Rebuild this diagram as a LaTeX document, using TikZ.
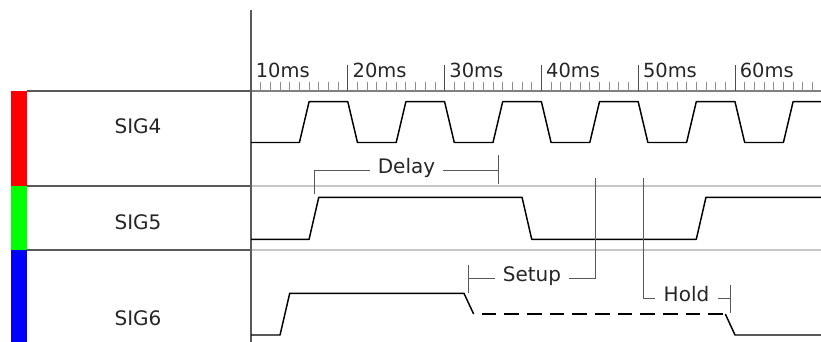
\documentclass[tikz,border=0pt]{standalone}
\usepackage{fontspec}
\setmainfont{DejaVu Sans}
\usepackage{xcolor}
\usepackage{tikz}

\begin{document}
\begin{tikzpicture}[x=0.75pt, y=-0.75pt,
    signame/.style={font=\fontsize{15}{18}\selectfont, text=black!85},
    tlabel/.style={font=\fontsize{14.6}{17}\selectfont, text=black!85, anchor=base west, inner sep=0pt},
    ann/.style={draw=black!65, line width=0.6pt},
    annlabel/.style={font=\fontsize{15}{18}\selectfont, text=black!85, inner xsep=6pt, inner ysep=0pt, anchor=mid},
    wave/.style={line width=1.1pt, line join=round},
    lane/.style={draw=black!22, line width=1.1pt},
    panel/.style={draw=black!65, line width=0.8pt}
]
\useasboundingbox (0,0) rectangle (821,342);

% signal names and colour bars
\fill[red] (11,91) rectangle (27,186);
\fill[green] (11,186) rectangle (27,250);
\fill[blue] (11,250) rectangle (27,342);
\node[signame] (sig4) at (138,126) {SIG4};
\node[signame] (sig5) at (138,222) {SIG5};
\node[signame] (sig6) at (138,318) {SIG6};
\draw[panel] (27,91) -- (251,91);
\draw[panel] (27,186) -- (251,186);
\draw[panel] (27,250) -- (251,250);

% lanes and axes
\draw[lane] (251,186) -- (821,186);
\draw[lane] (251,250) -- (821,250);
\draw[draw=black!50, line width=0.8pt] (251,91) -- (821,91);
\draw[panel] (251,10) -- (251,342);

% time scale, x in ms
\begin{scope}[xshift=115.65pt, x=7.26pt]
\foreach \t in {11,...,68}
    \draw[draw=black!45, line width=0.6pt] (\t,82) -- (\t,91);
\foreach \t in {20,30,...,60}
    \draw[draw=black!70, line width=0.7pt] (\t,65) -- (\t,91);
\foreach \t in {1,...,6}
    \node[tlabel] (tick\t) at (\t*10+0.47,78) {\t0ms};

% waveforms
\draw[wave] (10,142.5) \foreach \t in {15,25,...,55} {
    -- (\t,142.5) -- (\t+1,101.7) -- (\t+5,101.7) -- (\t+6,142.5)}
    -- (65,142.5) -- (66,101.7) -- (68.9,101.7);
\draw[wave] (10,239.3) -- (16,239.3) -- (17,197.3) -- (38,197.3) -- (39,239.3)
    -- (56,239.3) -- (57,197.3) -- (68.9,197.3);
\draw[wave] (10,335) -- (13,335) -- (14,293.3) -- (32,293.3) -- (33,314);
\draw[wave, dash pattern=on 11pt off 6pt, dash phase=11pt] (33,314) -- (59,314);
\draw[wave] (59,314) -- (60,335) -- (68.9,335);
\end{scope}

% Delay
\node[annlabel] (delay) at (406.5,170) {Delay};
\coordinate (dly-a) at (314,194);
\coordinate (dly-b) at (498.3,170);
\draw[ann] (dly-a) |- (delay.mid west);
\draw[ann] (delay.mid east) -- (dly-b);
\draw[ann] ([yshift=11.2pt]dly-b) -- ([yshift=-10.5pt]dly-b);

% Setup
\node[annlabel] (setup) at (532,278.3) {Setup};
\coordinate (set-a) at (468.3,278.3);
\coordinate (set-b) at (595.7,178);
\draw[ann] (set-a) -- (setup.mid west);
\draw[ann] (setup.mid east) -| (set-b);
\draw[ann] ([yshift=10pt]set-a) -- ([yshift=-11pt]set-a);

% Hold
\node[annlabel] (hold) at (686.5,298.3) {Hold};
\coordinate (hld-a) at (643.3,178);
\coordinate (hld-b) at (730,298.3);
\draw[ann] (hld-a) |- (hold.mid west);
\draw[ann] (hold.mid east) -- (hld-b);
\draw[ann] ([yshift=10pt]hld-b) -- ([yshift=-11pt]hld-b);
\end{tikzpicture}
\end{document}
